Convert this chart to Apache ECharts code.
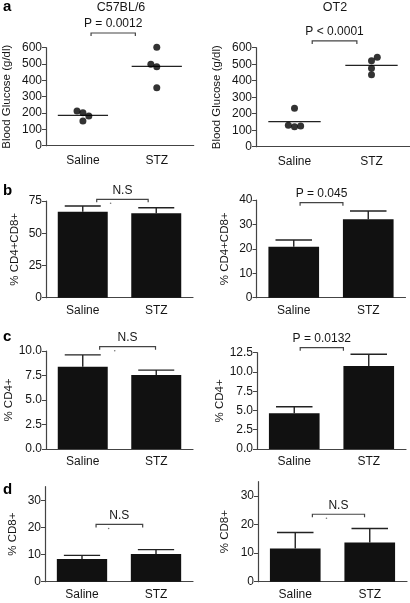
<!DOCTYPE html>
<html><head><meta charset="utf-8">
<script src="https://cdn.jsdelivr.net/npm/echarts@6/dist/echarts.min.js"></script>
<style>html,body{margin:0;padding:0;background:#fff}#c{width:410px;height:603px}</style>
</head><body><div id="c"></div>
<script>
// ---------- DATA ----------
const categories = ['Saline', 'STZ'];
const strainTitles = ['C57BL/6', 'OT2'];
const panelLetters = ['a', 'b', 'c', 'd'];

// a: blood glucose (g/dl), individual mice and group means
const glucoseC57Saline = [212, 202, 182, 151];
const glucoseC57STZ = [602, 498, 484, 355];
const glucoseOT2Saline = [233, 130, 121, 125];
const glucoseOT2STZ = [542, 521, 475, 436];
const glucoseC57Mean = [186, 486];
const glucoseOT2Mean = [152, 493];

// b: % CD4+CD8+ (mean, SEM)
const cd4cd8C57Mean = [66.7, 65.5];
const cd4cd8C57Sem = [4.4, 4.3];
const cd4cd8OT2Mean = [20.9, 32.1];
const cd4cd8OT2Sem = [2.7, 3.4];

// c: % CD4+
const cd4C57Mean = [8.4, 7.55];
const cd4C57Sem = [1.2, 0.5];
const cd4OT2Mean = [4.63, 10.77];
const cd4OT2Sem = [0.86, 1.52];

// d: % CD8+
const cd8C57Mean = [8.4, 10.2];
const cd8C57Sem = [1.3, 1.6];
const cd8OT2Mean = [11.65, 13.7];
const cd8OT2Sem = [5.55, 4.9];

// y tick labels
const ticksGlucose = [0, 100, 200, 300, 400, 500, 600];
const ticksCD4CD8C57 = [0, 25, 50, 75];
const ticksCD4CD8OT2 = [0, 10, 20, 30, 40];
const ticksCD4C57 = [0, 2.5, 5.0, 7.5, 10.0];
const ticksCD4OT2 = [0, 2.5, 5.0, 7.5, 10.0, 12.5];
const ticksCD8 = [0, 10, 20, 30];

const yNames = ['Blood Glucose (g/dl)', 'Blood Glucose (g/dl)', '% CD4+CD8+', '% CD4+CD8+', '% CD4+', '% CD4+', '% CD8+', '% CD8+'];
const statLabels = ['P = 0.0012', 'P < 0.0001', 'N.S', 'P = 0.045', 'N.S', 'P = 0.0132', 'N.S', 'N.S'];

// ---------- LAYOUT / STYLE ----------
const FONT = '"Liberation Sans", Arial, Helvetica, sans-serif';
const INK = '#151515';
const panels = [
  {left: 45.7, width: 148, top: 47.7, height: 98, max: 600, ticks: ticksGlucose, dec: 0, gap: 33, lm: 9},
  {left: 256, width: 154, top: 47.7, height: 99, max: 600, ticks: ticksGlucose, dec: 0, gap: 33, lm: 9},
  {left: 46, width: 147, top: 201, height: 96.7, max: 75, ticks: ticksCD4CD8C57, dec: 0, gap: 25, lm: 7},
  {left: 256.5, width: 149, top: 200, height: 97.7, max: 40, ticks: ticksCD4CD8OT2, dec: 0, gap: 26, lm: 7},
  {left: 46, width: 147, top: 351, height: 98, max: 10, ticks: ticksCD4C57, dec: 1, gap: 29, lm: 7},
  {left: 257, width: 149, top: 352.7, height: 96.3, max: 12.5, ticks: ticksCD4OT2, dec: 1, gap: 29, lm: 7},
  {left: 45, width: 148, top: 486.7, height: 95, max: 35, ticks: ticksCD8, dec: 0, gap: 26, lm: 7},
  {left: 258, width: 149, top: 481.7, height: 100, max: 35, ticks: ticksCD8, dec: 0, gap: 27, lm: 7}
];
// bracket placement: [x start, x end] on a 0..2 scale, and height in data units
const brackets = [
  [0.61, 1.21, 690], [0.73, 1.31, 641],
  [0.69, 1.39, 76.3], [0.585, 1.16, 38.9],
  [0.73, 1.49, 10.44], [0.58, 1.16, 13.15],
  [0.69, 1.32, 21.1], [0.73, 1.43, 23.6]
];
const jitter = {
  c57Saline: [-0.08, 0, 0.08, 0], c57STZ: [0, -0.08, 0, 0],
  ot2Saline: [0, -0.08, 0, 0.08], ot2STZ: [0.075, 0, 0, 0]
};

const barSets = [null, null,
  [cd4cd8C57Mean, cd4cd8C57Sem], [cd4cd8OT2Mean, cd4cd8OT2Sem],
  [cd4C57Mean, cd4C57Sem], [cd4OT2Mean, cd4OT2Sem],
  [cd8C57Mean, cd8C57Sem], [cd8OT2Mean, cd8OT2Sem]];

const grid = [], xAxis = [], yAxis = [], series = [];
panels.forEach((p, i) => {
  grid.push({left: p.left, top: p.top, width: p.width, height: p.height, containLabel: false});
  xAxis.push({
    type: 'category', gridIndex: i, data: categories,
    axisLine: {lineStyle: {color: '#444', width: 1.2}},
    axisTick: {alignWithLabel: true, length: 3, lineStyle: {color: '#444'}},
    axisLabel: {color: INK, fontFamily: FONT, fontSize: 12, margin: p.lm}
  });
  xAxis.push({type: 'value', gridIndex: i, min: 0, max: 2, show: false});
  yAxis.push({
    type: 'value', gridIndex: i, min: 0, max: p.max,
    name: yNames[i], nameLocation: 'middle', nameGap: p.gap,
    nameTextStyle: {color: INK, fontFamily: FONT, fontSize: 11.5},
    axisLine: {show: true, lineStyle: {color: '#444', width: 1.2}},
    axisTick: {show: true, length: 4, customValues: p.ticks, lineStyle: {color: '#444'}},
    axisLabel: {color: INK, fontFamily: FONT, fontSize: 12, margin: 4, customValues: p.ticks,
      formatter: v => Number(v).toFixed(p.dec)},
    splitLine: {show: false}
  });
  // bracket + stat label
  const b = brackets[i];
  const isNS = statLabels[i] === 'N.S';
  series.push({
    type: 'custom', xAxisIndex: 2 * i + 1, yAxisIndex: i, clip: false, silent: true, z: 5,
    data: [[b[0], b[1], b[2]]],
    renderItem: (params, api) => {
      const p1 = api.coord([api.value(0), api.value(2)]);
      const p2 = api.coord([api.value(1), api.value(2)]);
      const y = p1[1];
      const ch = [
        {type: 'polyline', shape: {points: [[p1[0], y + 3], [p1[0], y], [p2[0], y], [p2[0], y + 3]]},
          style: {stroke: '#444', lineWidth: 1.2, fill: null}},
        {type: 'text', x: (p1[0] + p2[0]) / 2, y: y - 9,
          style: {text: statLabels[i], fill: INK, fontFamily: FONT, fontSize: 12, align: 'center', verticalAlign: 'middle'}}
      ];
      if (isNS) {
        ch.push({type: 'circle', shape: {cx: p1[0] + (p2[0] - p1[0]) * 0.27, cy: y + 4, r: 0.8}, style: {fill: '#777'}});
      }
      return {type: 'group', children: ch};
    }
  });
});

// a panels: scatter + mean lines
function scatterData(vals, center, jit) { return vals.map((v, k) => [center + jit[k], v]); }
const scatterSets = [
  [[glucoseC57Saline, jitter.c57Saline], [glucoseC57STZ, jitter.c57STZ], glucoseC57Mean],
  [[glucoseOT2Saline, jitter.ot2Saline], [glucoseOT2STZ, jitter.ot2STZ], glucoseOT2Mean]
];
scatterSets.forEach((s, i) => {
  series.push({
    type: 'scatter', xAxisIndex: 2 * i + 1, yAxisIndex: i, symbol: 'circle', symbolSize: 7,
    itemStyle: {color: '#000'}, silent: true, z: 4, clip: false,
    data: scatterData(s[0][0], 0.5, s[0][1]).concat(scatterData(s[1][0], 1.5, s[1][1]))
  });
  series.push({
    type: 'custom', xAxisIndex: 2 * i, yAxisIndex: i, silent: true, z: 3, clip: false,
    data: s[2].map((m, k) => [k, m]),
    renderItem: (params, api) => {
      const c = api.coord([api.value(0), api.value(1)]);
      const hw = api.size([1, 0])[0] * 0.34;
      return {type: 'line', shape: {x1: c[0] - hw, y1: c[1], x2: c[0] + hw, y2: c[1]}, style: {stroke: '#222', lineWidth: 1.3}};
    }
  });
});

// bar panels
barSets.forEach((bs, i) => {
  if (!bs) return;
  series.push({
    type: 'bar', xAxisIndex: 2 * i, yAxisIndex: i, data: bs[0], barWidth: '68%',
    itemStyle: {color: '#111'}, silent: true, z: 2
  });
  series.push({
    type: 'custom', xAxisIndex: 2 * i, yAxisIndex: i, silent: true, z: 1, clip: false,
    data: bs[0].map((m, k) => [k, m, m + bs[1][k]]),
    renderItem: (params, api) => {
      const base = api.coord([api.value(0), api.value(1)]);
      const top = api.coord([api.value(0), api.value(2)]);
      const hw = api.size([1, 0])[0] * 0.245;
      return {type: 'group', children: [
        {type: 'line', shape: {x1: base[0], y1: base[1], x2: top[0], y2: top[1]}, style: {stroke: '#222', lineWidth: 1.4}},
        {type: 'line', shape: {x1: top[0] - hw, y1: top[1], x2: top[0] + hw, y2: top[1]}, style: {stroke: '#222', lineWidth: 1.4}}
      ]};
    }
  });
});

const letterTops = [8, 192, 338, 491];
const title = [
  {text: strainTitles[0], left: 121, top: 1, padding: 0, textAlign: 'center', textStyle: {fontFamily: FONT, fontSize: 12.5, fontWeight: 'normal', color: INK}},
  {text: strainTitles[1], left: 335, top: 1, padding: 0, textAlign: 'center', textStyle: {fontFamily: FONT, fontSize: 12.5, fontWeight: 'normal', color: INK}}
].concat(panelLetters.map((l, k) => ({
  text: l, left: 3, top: letterTops[k] - 9, padding: 0, textStyle: {fontFamily: FONT, fontSize: 15, fontWeight: 'bold', color: '#000'}
})));

const chart = echarts.init(document.getElementById('c'), null, {renderer: 'canvas'});
chart.setOption({animation: false, backgroundColor: '#fff', title, grid, xAxis, yAxis, series});
</script>
</body></html>
